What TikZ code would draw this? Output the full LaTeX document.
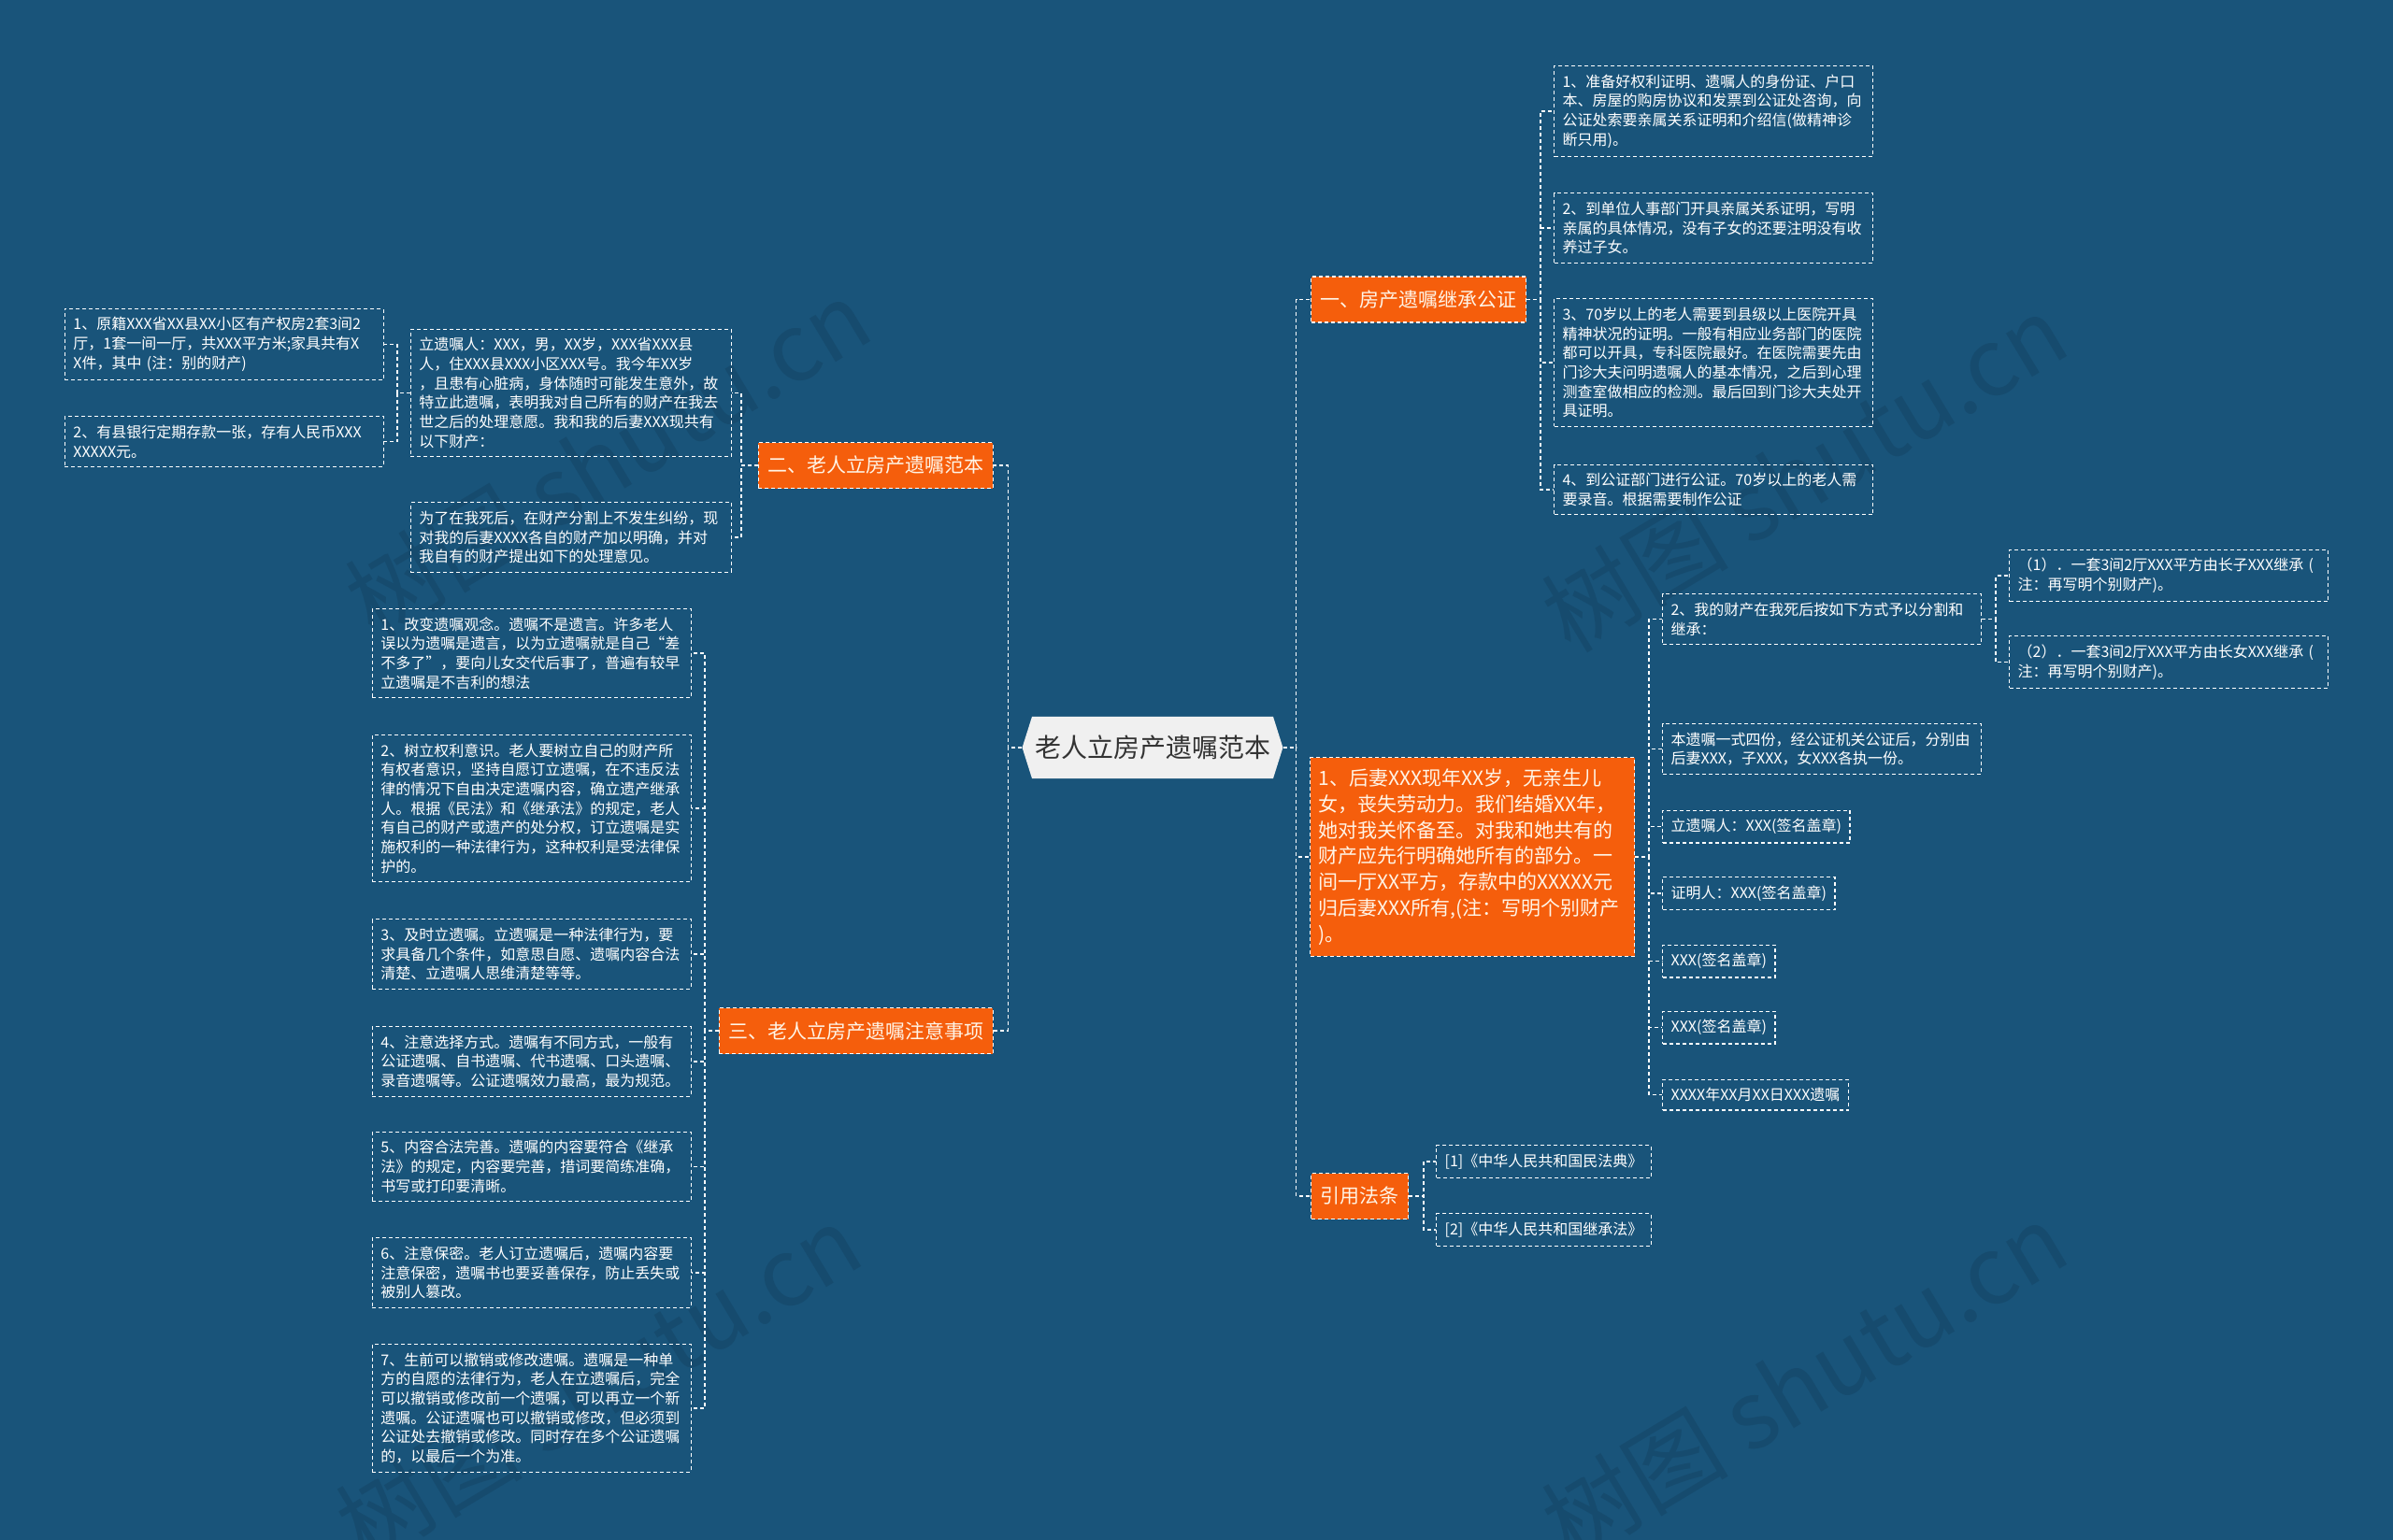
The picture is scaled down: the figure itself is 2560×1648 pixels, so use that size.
\documentclass[tikz,border=0pt]{standalone}
\usepackage{fontspec}
\setmainfont{Noto Sans CJK SC}
\usetikzlibrary{shapes.symbols}
\definecolor{bgblue}{HTML}{19547A}
\definecolor{maporange}{HTML}{F55E0C}
\definecolor{hubgray}{HTML}{F0F0F0}
\definecolor{inkgray}{HTML}{333333}
\definecolor{cream}{HTML}{FFF4E6}

\begin{document}
\begin{tikzpicture}[x=1pt, y=-1pt,
    link/.style={draw=white, line width=1.5pt, dash pattern=on 4pt off 3pt},
    hub/.style={signal, signal to=east and west, signal pointer angle=145, fill=hubgray, text=inkgray, inner xsep=3pt, inner ysep=20pt, font=\fontsize{28}{34}\selectfont},
    topic/.style={rectangle, fill=maporange, draw=white, line width=1.2pt, dash pattern=on 4pt off 3pt, text=cream, inner xsep=10pt, inner ysep=0pt, minimum height=49pt, font=\fontsize{21}{28}\selectfont},
    leaf/.style={rectangle, draw=white, line width=1.2pt, dash pattern=on 4pt off 3pt, text=white, inner xsep=9pt, inner ysep=9pt, align=left, font=\fontsize{16}{20.7}\selectfont},
    wideleaf/.style={leaf, text width=323pt},
    wmark/.style={text=bgblue!90!black, font=\fontsize{100}{100}\selectfont, rotate=31}
    ]
    \fill[bgblue] (0,0) rectangle (2560,1648);
    \useasboundingbox (0,0) rectangle (2560,1648);

    \node[wmark] (w1) at (650,490) {树图 shutu.cn};
    \node[wmark] (w2) at (1930,506) {树图 shutu.cn};
    \node[wmark] (w3) at (640,1480) {树图 shutu.cn};
    \node[wmark] (w4) at (1930,1478) {树图 shutu.cn};

    \node[hub] (n0) at (1233,800) {老人立房产遗嘱范本};

    \node[topic, anchor=west] (n1) at (1402,320.5) {一、房产遗嘱继承公证};
    \node[topic, anchor=west, text width=329pt, align=left, inner xsep=9pt, inner ysep=12pt, minimum height=0pt, font=\fontsize{21}{27.8}\selectfont] (n2) at (1401,917) {1、后妻XXX现年XX岁，无亲生儿\\女，丧失劳动力。我们结婚XX年，\\她对我关怀备至。对我和她共有的\\财产应先行明确她所有的部分。一\\间一厅XX平方，存款中的XXXXX元\\归后妻XXX所有,(注：写明个别财产\\)。};
    \node[topic, anchor=west] (n3) at (1402,1280) {引用法条};
    \node[topic, anchor=east] (n4) at (1063,498) {二、老人立房产遗嘱范本};
    \node[topic, anchor=east] (n5) at (1063,1103) {三、老人立房产遗嘱注意事项};

    \node[wideleaf, anchor=west] (n11) at (1662,119) {1、准备好权利证明、遗嘱人的身份证、户口\\本、房屋的购房协议和发票到公证处咨询，向\\公证处索要亲属关系证明和介绍信(做精神诊\\断只用)。};
    \node[wideleaf, anchor=west] (n12) at (1662,244) {2、到单位人事部门开具亲属关系证明，写明\\亲属的具体情况，没有子女的还要注明没有收\\养过子女。};
    \node[wideleaf, anchor=west] (n13) at (1662,388) {3、70岁以上的老人需要到县级以上医院开具\\精神状况的证明。一般有相应业务部门的医院\\都可以开具，专科医院最好。在医院需要先由\\门诊大夫问明遗嘱人的基本情况，之后到心理\\测查室做相应的检测。最后回到门诊大夫处开\\具证明。};
    \node[wideleaf, anchor=west] (n14) at (1662,524) {4、到公证部门进行公证。70岁以上的老人需\\要录音。根据需要制作公证};

    \node[wideleaf, anchor=west] (n21) at (1778,662.5) {2、我的财产在我死后按如下方式予以分割和\\继承：};
    \node[wideleaf, anchor=west] (n211) at (2149,616) {（1）．一套3间2厅XXX平方由长子XXX继承 (\\注：再写明个别财产)。};
    \node[wideleaf, anchor=west] (n212) at (2149,708.5) {（2）．一套3间2厅XXX平方由长女XXX继承 (\\注：再写明个别财产)。};
    \node[wideleaf, anchor=west] (n22) at (1778,801.5) {本遗嘱一式四份，经公证机关公证后，分别由\\后妻XXX，子XXX，女XXX各执一份。};
    \node[leaf, anchor=west] (n23) at (1778,884.5) {立遗嘱人：XXX(签名盖章)};
    \node[leaf, anchor=west] (n24) at (1778,956) {证明人：XXX(签名盖章)};
    \node[leaf, anchor=west] (n25) at (1778,1028.5) {XXX(签名盖章)};
    \node[leaf, anchor=west] (n26) at (1778,1099.5) {XXX(签名盖章)};
    \node[leaf, anchor=west] (n27) at (1778,1171.5) {XXXX年XX月XX日XXX遗嘱};

    \node[leaf, anchor=west] (n31) at (1536,1243) {[1]《中华人民共和国民法典》};
    \node[leaf, anchor=west] (n32) at (1536,1316) {[2]《中华人民共和国继承法》};

    \node[leaf, text width=325pt, anchor=east] (n41) at (783,420.5) {立遗嘱人：XXX，男，XX岁，XXX省XXX县\\人，住XXX县XXX小区XXX号。我今年XX岁\\，且患有心脏病，身体随时可能发生意外，故\\特立此遗嘱，表明我对自己所有的财产在我去\\世之后的处理意愿。我和我的后妻XXX现共有\\以下财产：};
    \node[leaf, text width=325pt, anchor=east] (n42) at (783,575) {为了在我死后，在财产分割上不发生纠纷，现\\对我的后妻XXXX各自的财产加以明确，并对\\我自有的财产提出如下的处理意见。};
    \node[wideleaf, anchor=east] (n411) at (411,368.5) {1、原籍XXX省XX县XX小区有产权房2套3间2\\厅，1套一间一厅，共XXX平方米;家具共有X\\X件，其中 (注：别的财产)};
    \node[wideleaf, anchor=east] (n412) at (411,472.5) {2、有县银行定期存款一张，存有人民币XXX\\XXXXX元。};

    \node[wideleaf, anchor=east] (n51) at (740,699) {1、改变遗嘱观念。遗嘱不是遗言。许多老人\\误以为遗嘱是遗言，以为立遗嘱就是自己“差\\不多了”，要向儿女交代后事了，普遍有较早\\立遗嘱是不吉利的想法};
    \node[wideleaf, anchor=east] (n52) at (740,865) {2、树立权利意识。老人要树立自己的财产所\\有权者意识，坚持自愿订立遗嘱，在不违反法\\律的情况下自由决定遗嘱内容，确立遗产继承\\人。根据《民法》和《继承法》的规定，老人\\有自己的财产或遗产的处分权，订立遗嘱是实\\施权利的一种法律行为，这种权利是受法律保\\护的。};
    \node[wideleaf, anchor=east] (n53) at (740,1021) {3、及时立遗嘱。立遗嘱是一种法律行为，要\\求具备几个条件，如意思自愿、遗嘱内容合法\\清楚、立遗嘱人思维清楚等等。};
    \node[wideleaf, anchor=east] (n54) at (740,1136) {4、注意选择方式。遗嘱有不同方式，一般有\\公证遗嘱、自书遗嘱、代书遗嘱、口头遗嘱、\\录音遗嘱等。公证遗嘱效力最高，最为规范。};
    \node[wideleaf, anchor=east] (n55) at (740,1248.5) {5、内容合法完善。遗嘱的内容要符合《继承\\法》的规定，内容要完善，措词要简练准确，\\书写或打印要清晰。};
    \node[wideleaf, anchor=east] (n56) at (740,1362) {6、注意保密。老人订立遗嘱后，遗嘱内容要\\注意保密，遗嘱书也要妥善保存，防止丢失或\\被别人篡改。};
    \node[wideleaf, anchor=east] (n57) at (740,1507) {7、生前可以撤销或修改遗嘱。遗嘱是一种单\\方的自愿的法律行为，老人在立遗嘱后，完全\\可以撤销或修改前一个遗嘱，可以再立一个新\\遗嘱。公证遗嘱也可以撤销或修改，但必须到\\公证处去撤销或修改。同时存在多个公证遗嘱\\的，以最后一个为准。};

    \foreach \c in {n1,n2,n3}
        \draw[link] (n0.east) -- ++(14,0) |- (\c.west);
    \foreach \c in {n4,n5}
        \draw[link] (n0.west) -- ++(-15,0) |- (\c.east);
    \foreach \c in {n11,n12,n13,n14}
        \draw[link] (n1.east) -- ++(15,0) |- (\c.west);
    \foreach \c in {n21,n22,n23,n24,n25,n26,n27}
        \draw[link] (n2.east) -- ++(15,0) |- (\c.west);
    \foreach \c in {n211,n212}
        \draw[link] (n21.east) -- ++(15,0) |- (\c.west);
    \foreach \c in {n31,n32}
        \draw[link] (n3.east) -- ++(16,0) |- (\c.west);
    \foreach \c in {n41,n42}
        \draw[link] (n4.west) -- ++(-18,0) |- (\c.east);
    \foreach \c in {n411,n412}
        \draw[link] (n41.west) -- ++(-14,0) |- (\c.east);
    \foreach \c in {n51,n52,n53,n54,n55,n56,n57}
        \draw[link] (n5.west) -- ++(-15,0) |- (\c.east);
\end{tikzpicture}
\end{document}
